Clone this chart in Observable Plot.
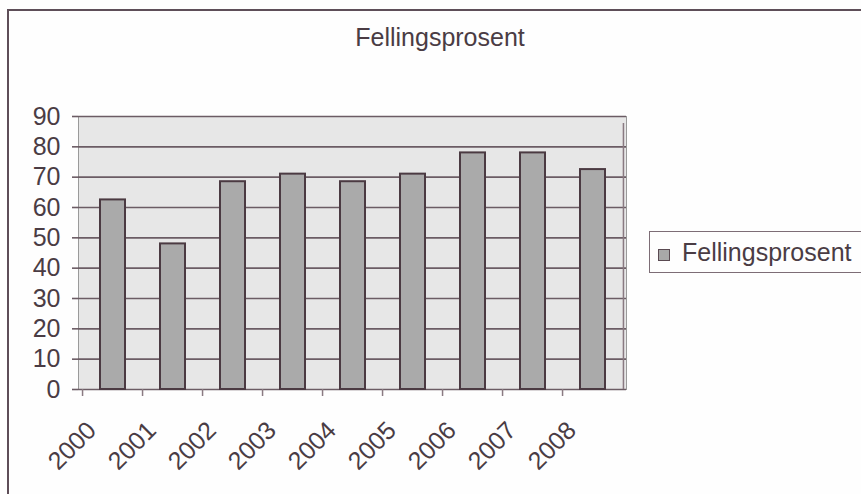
<!DOCTYPE html>
<html><head><meta charset="utf-8">
<script src="https://cdn.jsdelivr.net/npm/d3@7"></script>
<script src="https://cdn.jsdelivr.net/npm/@observablehq/plot@0.6"></script>
<style>
html,body{margin:0;padding:0;background:#fefefe;}
#wrap{position:relative;width:861px;height:494px;overflow:hidden;background:#fefefe;font-family:"Liberation Sans",Arial,sans-serif;color:#4a3c44;}
#frame{position:absolute;left:7px;top:9px;width:900px;height:600px;border-left:2px solid #5e4e58;border-top:2px solid #5e4e58;}
#title{position:absolute;left:290px;width:300px;top:25px;text-align:center;font-size:25px;line-height:1;}
#legend{position:absolute;left:649px;top:231px;width:260px;height:42px;border:1.5px solid #7d6d76;box-sizing:border-box;}
#swatch{position:absolute;left:658px;top:249px;width:10px;height:10px;background:#a8a8a8;border:1.5px solid #5a4a52;}
#legtext{position:absolute;left:682px;top:240px;font-size:25px;line-height:1;white-space:nowrap;}
#chart{position:absolute;left:0;top:0;}
</style>
</head><body>
<div id="wrap">
  <div id="frame"></div>
  <div id="chart"></div>
  <div id="title">Fellingsprosent</div>
  <div id="legend"></div>
  <div id="swatch"></div>
  <div id="legtext">Fellingsprosent</div>
</div>
<script>
const years = ["2000","2001","2002","2003","2004","2005","2006","2007","2008"];
const values = [62.5, 48, 68.5, 71, 68.5, 71, 78, 78, 72.5];
const yTicks = [0,10,20,30,40,50,60,70,80,90];
const seriesName = "Fellingsprosent";

const data = years.map((y, i) => ({year: y, value: values[i]}));

const W = 861, H = 494;
const mL = 78, mR = 235, mT = 116, mB = 105;
const step = (W - mL - mR) / years.length;
const ink = "#4a3c44";
const lineCol = "#6b5c64";

const chart = Plot.plot({
  width: W, height: H,
  marginLeft: mL, marginRight: mR, marginTop: mT, marginBottom: mB,
  style: {background: "transparent", color: ink, fontFamily: "'Liberation Sans', Arial, sans-serif", fontSize: "25px", overflow: "visible"},
  x: {domain: years, paddingInner: 0.59, paddingOuter: 0.295, label: null},
  y: {domain: [0, 90], label: null},
  marks: [
    Plot.frame({fill: "#e7e7e7", stroke: "#9a9a9a", strokeWidth: 1}),
    Plot.gridY({ticks: yTicks, stroke: lineCol, strokeOpacity: 1, strokeWidth: 1.6}),
    Plot.ruleX(["2008"], {dx: step / 2, y1: 0, y2: 90, insetBottom: -7, stroke: "#8a7a82", strokeWidth: 1.5}),
    Plot.ruleX(years, {x: d => d, dx: -step / 2, y1: 0, y2: 0, insetBottom: -7, stroke: "#8a7a82", strokeWidth: 1.5}),
    Plot.axisY({ticks: yTicks, tickSize: 6, tickPadding: 12, fontSize: 25, stroke: lineCol, strokeWidth: 1.6, label: null}),
    Plot.barY(data, {x: "year", y: "value", fill: "#aaaaaa", stroke: "#4b3a42", strokeWidth: 2}),
    Plot.axisX({tickSize: 0, tickRotate: -45, fontSize: 25, dx: -21, dy: 25, label: null})
  ]
});
document.getElementById("chart").appendChild(chart);
</script>
</body></html>
